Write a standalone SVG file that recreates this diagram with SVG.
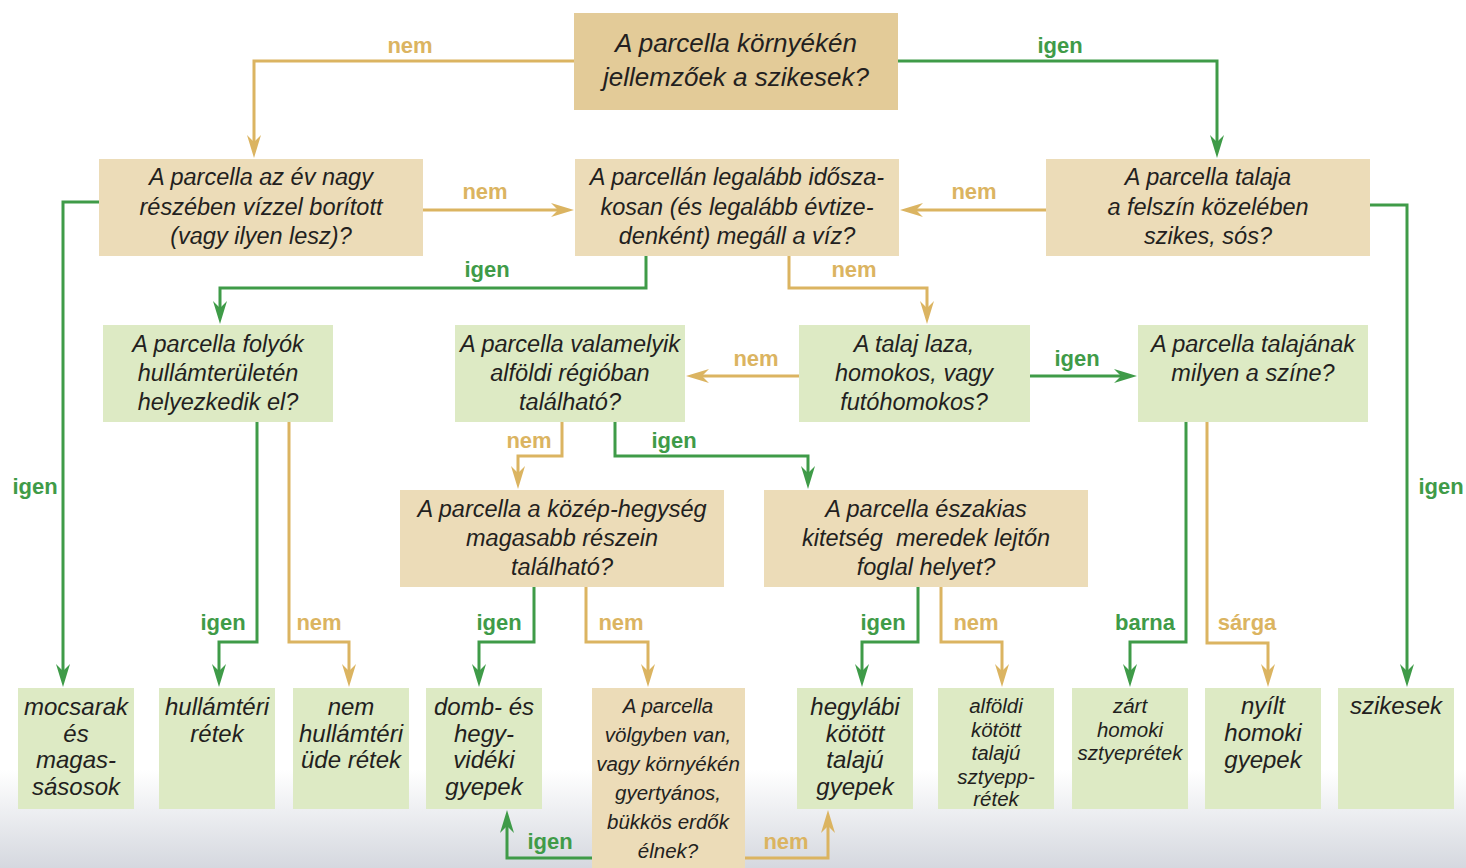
<svg xmlns="http://www.w3.org/2000/svg" width="1466" height="868" viewBox="0 0 1466 868">
<style>
.q{fill:#ecdcb8}
.q0{fill:#e3cb98}
.g{fill:#ddeac4}
.t{font-family:"Liberation Sans",Arial,sans-serif;font-style:italic;fill:#231f20;text-anchor:middle}
.t26{font-size:26px}
.t23{font-size:23.5px}
.t24{font-size:24px}
.t20{font-size:20.5px}
.ln{fill:none;stroke-width:3}
.gl{stroke:#3f9b48}
.tl{stroke:#dbb461}
.lb{font-family:"Liberation Sans",Arial,sans-serif;font-weight:bold;font-size:22px;text-anchor:middle}
.lg{fill:#3f9b48}
.lt{fill:#dbb461}
</style>
<defs>
<linearGradient id="bg" x1="0" y1="0" x2="0" y2="1">
<stop offset="0" stop-color="#ffffff"/>
<stop offset="1" stop-color="#d5d8df"/>
</linearGradient>
<marker id="ag" viewBox="-24 -8 26 16" markerWidth="26" markerHeight="16" refX="-10" refY="0" markerUnits="userSpaceOnUse" orient="auto">
<path d="M0,0 L-23,-7 L-16,0 L-23,7 Z" fill="#3f9b48"/>
</marker>
<marker id="at" viewBox="-24 -8 26 16" markerWidth="26" markerHeight="16" refX="-10" refY="0" markerUnits="userSpaceOnUse" orient="auto">
<path d="M0,0 L-23,-7 L-16,0 L-23,7 Z" fill="#dbb461"/>
</marker>
</defs>
<rect x="0" y="0" width="1466" height="868" fill="#ffffff"/>
<rect x="0" y="770" width="1466" height="98" fill="url(#bg)"/>

<g id="connectors">
<path class="ln tl" marker-end="url(#at)" d="M574,61 H254 V148"/>
<path class="ln gl" marker-end="url(#ag)" d="M898,61 H1217 V148"/>
<path class="ln tl" marker-end="url(#at)" d="M423,210 H564"/>
<path class="ln tl" marker-end="url(#at)" d="M1046,210 H910"/>
<path class="ln gl" marker-end="url(#ag)" d="M99,202 H63 V677"/>
<path class="ln gl" marker-end="url(#ag)" d="M646,256 V288 H220 V314"/>
<path class="ln tl" marker-end="url(#at)" d="M789,256 V288 H927 V314"/>
<path class="ln gl" marker-end="url(#ag)" d="M1370,205 H1407 V677"/>
<path class="ln gl" marker-end="url(#ag)" d="M257,422 V642 H219 V677"/>
<path class="ln tl" marker-end="url(#at)" d="M289,422 V642 H349 V677"/>
<path class="ln tl" marker-end="url(#at)" d="M799,376 H696"/>
<path class="ln gl" marker-end="url(#ag)" d="M1030,376 H1127"/>
<path class="ln tl" marker-end="url(#at)" d="M562,421 V456 H518 V479"/>
<path class="ln gl" marker-end="url(#ag)" d="M615,421 V456 H808 V479"/>
<path class="ln gl" marker-end="url(#ag)" d="M1186,421 V642 H1130 V677"/>
<path class="ln tl" marker-end="url(#at)" d="M1207,421 V643 H1268 V677"/>
<path class="ln gl" marker-end="url(#ag)" d="M534,586 V642 H479 V677"/>
<path class="ln tl" marker-end="url(#at)" d="M586,586 V642 H648 V677"/>
<path class="ln gl" marker-end="url(#ag)" d="M918,586 V642 H862 V677"/>
<path class="ln tl" marker-end="url(#at)" d="M941,586 V642 H1002 V677"/>
<path class="ln gl" marker-end="url(#ag)" d="M592,858 H507 V820"/>
<path class="ln tl" marker-end="url(#at)" d="M745,858 H828 V820"/>
<text class="lb lt" x="410" y="53">nem</text>
<text class="lb lg" x="1060" y="53">igen</text>
<text class="lb lt" x="485" y="199">nem</text>
<text class="lb lt" x="974" y="199">nem</text>
<text class="lb lg" x="487" y="277">igen</text>
<text class="lb lt" x="854" y="277">nem</text>
<text class="lb lg" x="35" y="494">igen</text>
<text class="lb lg" x="1441" y="494">igen</text>
<text class="lb lt" x="756" y="366">nem</text>
<text class="lb lg" x="1077" y="366">igen</text>
<text class="lb lt" x="529" y="448">nem</text>
<text class="lb lg" x="674" y="448">igen</text>
<text class="lb lg" x="223" y="630">igen</text>
<text class="lb lt" x="319" y="630">nem</text>
<text class="lb lg" x="499" y="630">igen</text>
<text class="lb lt" x="621" y="630">nem</text>
<text class="lb lg" x="883" y="630">igen</text>
<text class="lb lt" x="976" y="630">nem</text>
<text class="lb lg" x="1145" y="630">barna</text>
<text class="lb lt" x="1247" y="630">sárga</text>
<text class="lb lg" x="550" y="849">igen</text>
<text class="lb lt" x="786" y="849">nem</text>
</g>

<g id="n-top">
<rect class="q0" x="574" y="13" width="324" height="97"/>
<text class="t t26"><tspan x="736" y="52">A parcella környékén</tspan><tspan x="736" y="86">jellemzőek a szikesek?</tspan></text>
</g>
<g id="n-viz">
<rect class="q" x="99" y="159" width="324" height="97"/>
<text class="t t23"><tspan x="261" y="185">A parcella az év nagy</tspan><tspan x="261" y="214.5">részében vízzel borított</tspan><tspan x="261" y="244">(vagy ilyen lesz)?</tspan></text>
</g>
<g id="n-megall">
<rect class="q" x="575" y="159" width="324" height="97"/>
<text class="t t23"><tspan x="737" y="185">A parcellán legalább idősza-</tspan><tspan x="737" y="214.5">kosan (és legalább évtize-</tspan><tspan x="737" y="244">denként) megáll a víz?</tspan></text>
</g>
<g id="n-szikes">
<rect class="q" x="1046" y="159" width="324" height="97"/>
<text class="t t23"><tspan x="1208" y="185">A parcella talaja</tspan><tspan x="1208" y="214.5">a felszín közelében</tspan><tspan x="1208" y="244">szikes, sós?</tspan></text>
</g>
<g id="n-folyok">
<rect class="g" x="103" y="325" width="230" height="97"/>
<text class="t t23"><tspan x="218" y="352">A parcella folyók</tspan><tspan x="218" y="381">hullámterületén</tspan><tspan x="218" y="410">helyezkedik el?</tspan></text>
</g>
<g id="n-alfold">
<rect class="g" x="455" y="325" width="230" height="97"/>
<text class="t t23"><tspan x="570" y="352">A parcella valamelyik</tspan><tspan x="570" y="381">alföldi régióban</tspan><tspan x="570" y="410">található?</tspan></text>
</g>
<g id="n-laza">
<rect class="g" x="799" y="325" width="231" height="97"/>
<text class="t t23"><tspan x="914" y="352">A talaj laza,</tspan><tspan x="914" y="381">homokos, vagy</tspan><tspan x="914" y="410">futóhomokos?</tspan></text>
</g>
<g id="n-szin">
<rect class="g" x="1138" y="325" width="230" height="97"/>
<text class="t t23"><tspan x="1253" y="352">A parcella talajának</tspan><tspan x="1253" y="381">milyen a színe?</tspan></text>
</g>
<g id="n-kozephegyseg">
<rect class="q" x="400" y="490" width="324" height="97"/>
<text class="t t23"><tspan x="562" y="517">A parcella a közép-hegység</tspan><tspan x="562" y="546">magasabb részein</tspan><tspan x="562" y="575">található?</tspan></text>
</g>
<g id="n-eszakias">
<rect class="q" x="764" y="490" width="324" height="97"/>
<text class="t t23"><tspan x="926" y="517">A parcella északias</tspan><tspan x="926" y="546">kitetség&#160; meredek lejtőn</tspan><tspan x="926" y="575">foglal helyet?</tspan></text>
</g>
<g id="n-mocsarak">
<rect class="g" x="18" y="688" width="116" height="121"/>
<text class="t t24"><tspan x="76" y="715">mocsarak</tspan><tspan x="76" y="741.5">és</tspan><tspan x="76" y="768">magas-</tspan><tspan x="76" y="794.5">sásosok</tspan></text>
</g>
<g id="n-hullamteri">
<rect class="g" x="159" y="688" width="116" height="121"/>
<text class="t t24"><tspan x="217" y="715">hullámtéri</tspan><tspan x="217" y="741.5">rétek</tspan></text>
</g>
<g id="n-nemhullamteri">
<rect class="g" x="293" y="688" width="116" height="121"/>
<text class="t t24"><tspan x="351" y="715">nem</tspan><tspan x="351" y="741.5">hullámtéri</tspan><tspan x="351" y="768">üde rétek</tspan></text>
</g>
<g id="n-domb">
<rect class="g" x="426" y="688" width="116" height="121"/>
<text class="t t24"><tspan x="484" y="715">domb- és</tspan><tspan x="484" y="741.5">hegy-</tspan><tspan x="484" y="768">vidéki</tspan><tspan x="484" y="794.5">gyepek</tspan></text>
</g>
<g id="n-volgy">
<rect class="q" x="592" y="688" width="153" height="180"/>
<text class="t t20"><tspan x="668" y="713">A parcella</tspan><tspan x="668" y="742">völgyben van,</tspan><tspan x="668" y="771">vagy környékén</tspan><tspan x="668" y="800">gyertyános,</tspan><tspan x="668" y="829">bükkös erdők</tspan><tspan x="668" y="858">élnek?</tspan></text>
</g>
<g id="n-hegylabi">
<rect class="g" x="797" y="688" width="116" height="121"/>
<text class="t t24"><tspan x="855" y="715">hegylábi</tspan><tspan x="855" y="741.5">kötött</tspan><tspan x="855" y="768">talajú</tspan><tspan x="855" y="794.5">gyepek</tspan></text>
</g>
<g id="n-alfoldi">
<rect class="g" x="938" y="688" width="116" height="121"/>
<text class="t t20"><tspan x="996" y="713">alföldi</tspan><tspan x="996" y="737">kötött</tspan><tspan x="996" y="760">talajú</tspan><tspan x="996" y="784">sztyepp-</tspan><tspan x="996" y="806">rétek</tspan></text>
</g>
<g id="n-zart">
<rect class="g" x="1072" y="688" width="116" height="121"/>
<text class="t t20"><tspan x="1130" y="713">zárt</tspan><tspan x="1130" y="737">homoki</tspan><tspan x="1130" y="760">sztyeprétek</tspan></text>
</g>
<g id="n-nyilt">
<rect class="g" x="1205" y="688" width="116" height="121"/>
<text class="t t24"><tspan x="1263" y="714">nyílt</tspan><tspan x="1263" y="741">homoki</tspan><tspan x="1263" y="768">gyepek</tspan></text>
</g>
<g id="n-szikesek">
<rect class="g" x="1338" y="688" width="116" height="121"/>
<text class="t t24"><tspan x="1396" y="714">szikesek</tspan></text>
</g>
</svg>
